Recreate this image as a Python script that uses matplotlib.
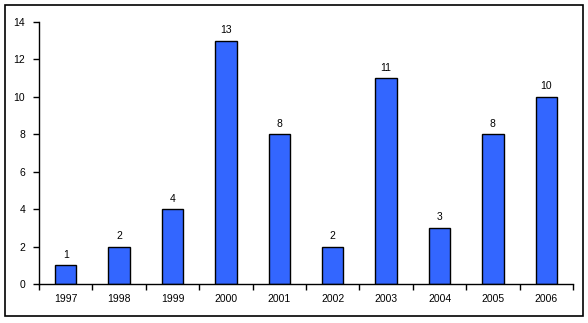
import matplotlib
matplotlib.use('Agg')
import matplotlib.pyplot as plt
from matplotlib.patches import Rectangle

plt.rcParams['font.family'] = ['Liberation Sans', 'DejaVu Sans']

YEARS = ['1997', '1998', '1999', '2000', '2001', '2002', '2003', '2004', '2005', '2006']
COUNTS = [1, 2, 4, 13, 8, 2, 11, 3, 8, 10]

fig = plt.figure(figsize=(5.88, 3.23), dpi=100)
ax = fig.add_axes([0.0663, 0.1207, 0.9082, 0.8112])

x = list(range(len(YEARS)))
bars = ax.bar(x, COUNTS, width=0.4, color='#3366FF', edgecolor='black', linewidth=1)
for xi, v in zip(x, COUNTS):
    ax.text(xi, v + 0.3, str(v), ha='center', va='bottom', fontsize=7.5)

ax.set_xlim(-0.5, len(YEARS) - 0.5)
ax.set_ylim(0, 14)
ax.set_yticks(range(0, 15, 2))
ax.tick_params(axis='y', labelsize=7.5, direction='out', length=4, width=1, pad=6)

# ticks between categories, labels centered
ax.set_xticks([i - 0.5 for i in range(len(YEARS) + 1)])
ax.set_xticklabels([])
ax.set_xticks(x, minor=True)
ax.set_xticklabels(YEARS, minor=True)
ax.tick_params(axis='x', which='major', direction='out', length=4, width=1)
ax.tick_params(axis='x', which='minor', length=0, labelsize=7.5, pad=7)

for side in ['top', 'right']:
    ax.spines[side].set_visible(False)
for side in ['left', 'bottom']:
    ax.spines[side].set_linewidth(1)

fig.patches.append(Rectangle((5 / 588, 7 / 323), 578 / 588, 311 / 323,
                             transform=fig.transFigure, fill=False,
                             edgecolor='black', linewidth=1.2))

fig.savefig('out.png', dpi=100)
